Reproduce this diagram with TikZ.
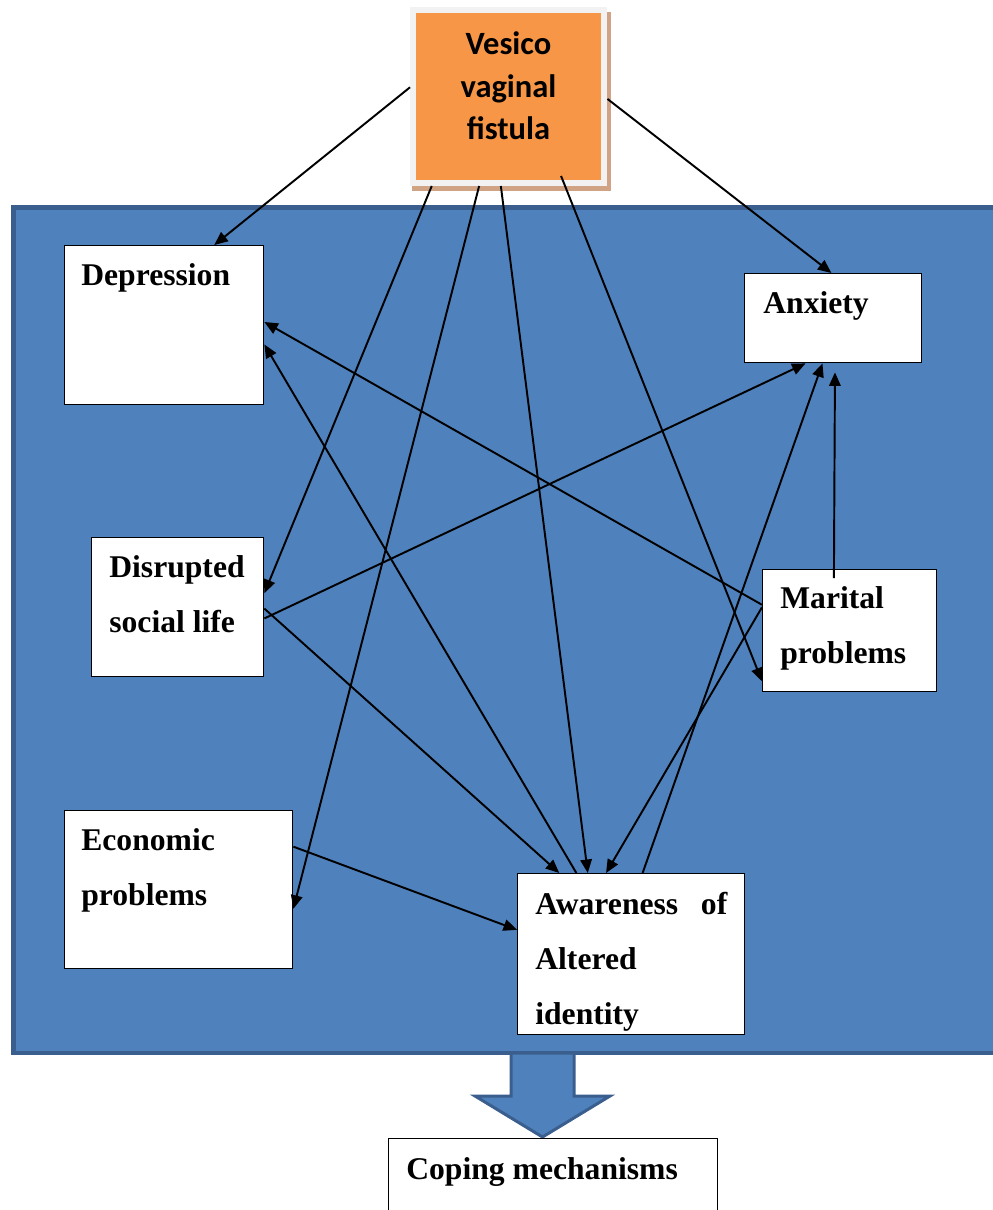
\documentclass[tikz,border=0pt]{standalone}
\usepackage{fontspec}
\setmainfont{Liberation Serif}
\newfontfamily\calibri{Carlito}
\usetikzlibrary{calc}
\usetikzlibrary{arrows.meta}
\usetikzlibrary{positioning}

\definecolor{vvforange}{HTML}{F79646}
\definecolor{vvfframe}{HTML}{F2F2F2}
\definecolor{vvfshadow}{HTML}{CFA384}
\definecolor{panelblue}{HTML}{4F81BD}
\definecolor{paneledge}{HTML}{3A5E8D}

\begin{document}
\begin{tikzpicture}[>={Triangle[length=0.27cm, width=0.23cm]}, x=0.02cm, y=-0.02cm]
	\tikzset{box/.style={draw=black, fill=white, line width=0.8pt, anchor=north west, inner sep=0pt}}
	\tikzset{lbl/.style={font=\bfseries\fontsize{18}{31.2}\selectfont, inner sep=0pt, align=left}}
	\tikzset{link/.style={->, line width=1.1pt}}
	\useasboundingbox (0,0) rectangle (993,1210);
	% blue panel and the big arrow under it
	\draw[fill=panelblue, draw=paneledge, line width=0.09cm] (13.5,207.5) rectangle (1010,1053);
	\draw[fill=panelblue, draw=paneledge, line width=0.06cm] (511,1053) -- (511,1096) -- (475,1096) -- (542.5,1137) -- (610,1096) -- (574,1096) -- (574,1053) -- cycle;
	% fistula box
	\fill[vvfshadow] (412,12) rectangle (611,191);
	\node[fill=vvforange, draw=vvfframe, line width=0.12cm, minimum width=3.83cm, minimum height=3.47cm, inner sep=0pt] (vvf) at (508.75,96.25) {};
	\node[font=\calibri\bfseries\fontsize{18.5}{24.4}\selectfont, align=center, inner sep=0pt, anchor=north] (vvf-t) at (508.5,31) {Vesico\\vaginal\\fistula};
	% boxes
	\node[box, minimum width=3.98cm, minimum height=3.18cm] (dep) at (64,245) {};
	\node[box, minimum width=3.54cm, minimum height=1.78cm] (anx) at (744,273) {};
	\node[box, minimum width=3.44cm, minimum height=2.78cm] (dsl) at (91,537) {};
	\node[box, minimum width=3.48cm, minimum height=2.44cm] (mar) at (762,569) {};
	\node[box, minimum width=4.56cm, minimum height=3.16cm] (eco) at (64,810) {};
	\node[box, minimum width=4.54cm, minimum height=3.22cm] (awa) at (517,873) {};
	\node[box, minimum width=6.58cm, minimum height=2cm] (cop) at (388,1138) {};
	\node[lbl, below right=0.36cm and 0.34cm of dep.north west] (dep-t) {Depression};
	\node[lbl, below right=0.37cm and 0.38cm of anx.north west] (anx-t) {Anxiety};
	\node[lbl, below right=0.36cm and 0.36cm of dsl.north west] (dsl-t) {Disrupted\\social life};
	\node[lbl, below right=0.34cm and 0.36cm of mar.north west] (mar-t) {Marital\\problems};
	\node[lbl, below right=0.36cm and 0.34cm of eco.north west] (eco-t) {Economic\\problems};
	\node[lbl, below right=0.38cm and 0.36cm of awa.north west, text width=3.84cm] (awa-t) {Awareness\hfill of\\Altered\\identity};
	\node[lbl, below right=0.38cm and 0.36cm of cop.north west] (cop-t) {Coping mechanisms};
	% links
	\draw[link] ($(vvf.north west)!0.45!(vvf.south west)$) -- ($(dep.north west)!0.75!(dep.north east)$);
	\draw[link] ($(vvf.north east)!0.515!(vvf.south east)$) -- ($(anx.north west)!0.49!(anx.north east)$);
	\draw[link] ($(vvf.south west)!0.11!(vvf.south east)$) -- ($(dsl.north east)!0.40!(dsl.south east)$);
	\draw[link] ($(vvf.south west)!0.35!(vvf.south east)$) -- ($(eco.north east)!0.62!(eco.south east)$);
	\draw[link] ($(vvf.south west)!0.46!(vvf.south east)$) -- ($(awa.north west)!0.31!(awa.north east)$);
	\draw[link] ($(vvf.south west)!0.765!(vvf.south east) + (0,-10)$) -- ($(mar.north west)!0.91!(mar.south west)$);
	\draw[link] ($(mar.north west)!0.29!(mar.south west)$) -- ($(dep.north east)!0.48!(dep.south east)$);
	\draw[link] ($(awa.north west)!0.26!(awa.north east)$) -- ($(dep.north east)!0.62!(dep.south east)$);
	\draw[link] ($(dsl.north east)!0.58!(dsl.south east)$) -- ($(anx.south west)!0.345!(anx.south east)$);
	\draw[link] ($(dsl.north east)!0.51!(dsl.south east)$) -- ($(awa.north west)!0.185!(awa.north east)$);
	\draw[link] ($(eco.north east)!0.23!(eco.south east)$) -- ($(awa.north west)!0.35!(awa.south west)$);
	\draw[link] ($(mar.north west)!0.31!(mar.south west)$) -- ($(awa.north west)!0.39!(awa.north east)$);
	\draw[link] ($(awa.north west)!0.55!(awa.north east)$) -- ($(anx.south west)!0.44!(anx.south east)$);
	\draw[link] ($(mar.north west)!0.41!(mar.north east) + (0,9)$) -- ($(anx.south west)!0.51!(anx.south east) + (0,9)$);
\end{tikzpicture}
\end{document}
